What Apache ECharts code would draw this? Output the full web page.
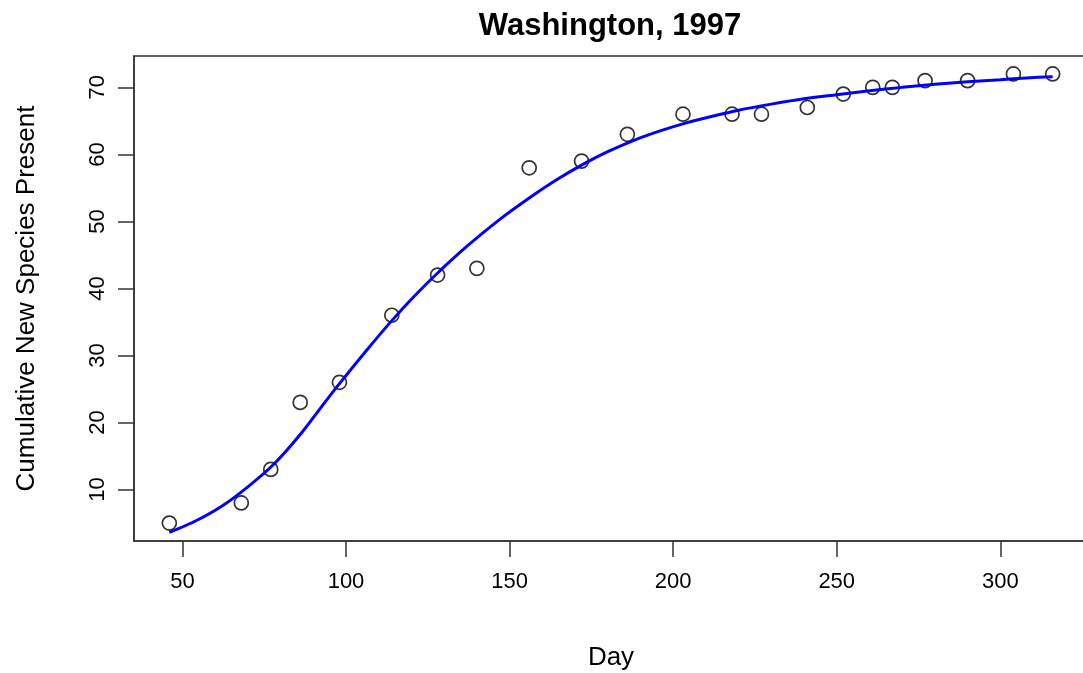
<!DOCTYPE html>
<html>
<head>
<meta charset="utf-8">
<script src="https://cdn.jsdelivr.net/npm/echarts@6/dist/echarts.min.js"></script>
<style>
html,body{margin:0;padding:0;background:#fff;}
#c{width:1083px;height:673px;}
</style>
</head>
<body>
<div id="c"></div>
<script>
// Observed data points
var dayValues = [46, 68, 77, 86, 98, 114, 128, 140, 156, 172, 186, 203, 218, 227, 241, 252, 261, 267, 277, 290, 304, 316];
var speciesValues = [5, 8, 13, 23, 26, 36, 42, 43, 58, 59, 63, 66, 66, 66, 67, 69, 70, 70, 71, 71, 72, 72];

// Fitted curve
var curveDays = [46, 54, 62, 70, 78, 86, 94, 98, 106, 114, 121, 128, 137, 147, 156, 164, 172, 180, 188, 196, 204, 212, 220, 230, 240, 250, 260, 270, 280, 290, 300, 308, 316];
var curveValues = [3.6, 5.3, 7.5, 10.4, 13.8, 18.2, 23.3, 25.8, 30.6, 35.2, 38.9, 42.3, 46.3, 50.3, 53.5, 56.1, 58.4, 60.4, 62.1, 63.5, 64.7, 65.7, 66.6, 67.5, 68.3, 68.9, 69.5, 70.0, 70.45, 70.85, 71.15, 71.4, 71.6];

// Tick labels
var xTicks = [50, 100, 150, 200, 250, 300];
var yTicks = [10, 20, 30, 40, 50, 60, 70];

var titleText = 'Washington, 1997';
var xName = 'Day';
var yName = 'Cumulative New Species Present';

var pts = dayValues.map(function (d, i) { return [d, speciesValues[i]]; });
var curve = curveDays.map(function (d, i) { return [d, curveValues[i]]; });

var FONT = '"Liberation Sans", Arial, Helvetica, sans-serif';
var axisColor = '#333';

var chart = echarts.init(document.getElementById('c'), null, {renderer: 'canvas'});
chart.setOption({
  animation: false,
  backgroundColor: '#fff',
  graphic: [{
    type: 'text',
    x: 610, y: 26,
    style: {
      text: titleText, textAlign: 'center', textVerticalAlign: 'middle',
      font: 'bold 31px ' + FONT, fill: '#000'
    }
  }],
  grid: {
    left: 134, top: 56, width: 954, bottom: 132,
    show: true, borderColor: axisColor, borderWidth: 1.5,
    backgroundColor: 'transparent', containLabel: false,
    outerBoundsMode: 'none'
  },
  xAxis: {
    type: 'value',
    min: 35.2, max: 326.8,
    name: xName,
    nameLocation: 'middle',
    nameGap: 104,
    nameTextStyle: {fontFamily: FONT, fontSize: 26, color: '#000'},
    axisLine: {show: true, onZero: false, lineStyle: {color: axisColor, width: 1.5}},
    axisTick: {show: true, length: 16, customValues: xTicks, lineStyle: {color: axisColor, width: 1.5}},
    axisLabel: {show: true, customValues: xTicks, margin: 30, fontFamily: FONT, fontSize: 22, color: '#000'},
    splitLine: {show: false}
  },
  yAxis: {
    type: 'value',
    min: 2.32, max: 74.68,
    name: yName,
    nameLocation: 'middle',
    nameRotate: 90,
    nameGap: 94,
    nameTextStyle: {fontFamily: FONT, fontSize: 26, color: '#000'},
    axisLine: {show: true, onZero: false, lineStyle: {color: axisColor, width: 1.5}},
    axisTick: {show: true, length: 16, customValues: yTicks, lineStyle: {color: axisColor, width: 1.5}},
    axisLabel: {show: true, customValues: yTicks, rotate: 90, margin: 25, fontFamily: FONT, fontSize: 22, color: '#000'},
    splitLine: {show: false}
  },
  series: [
    {
      type: 'scatter',
      data: pts,
      symbol: 'circle',
      symbolSize: 14,
      itemStyle: {color: 'rgba(0,0,0,0)', borderColor: '#000', borderWidth: 1.7},
      z: 2
    },
    {
      type: 'line',
      data: curve,
      smooth: 0.25,
      showSymbol: false,
      lineStyle: {color: '#0000ff', width: 3},
      z: 3
    }
  ]
});
</script>
</body>
</html>
